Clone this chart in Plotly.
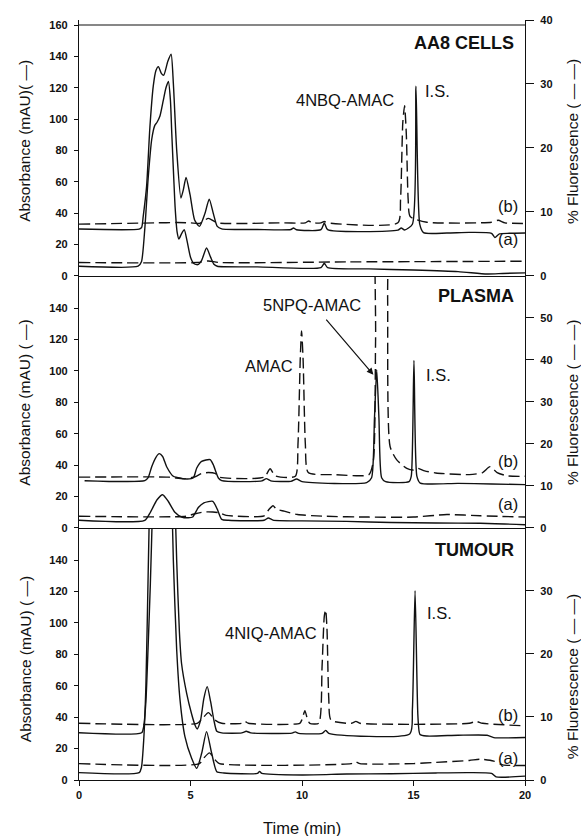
import plotly.graph_objects as go

# ---------------- DATA ----------------
TIME_TICKS = [0, 5, 10, 15, 20]

# Panel 1: AA8 CELLS  (absorbance in mAU, fluorescence in %)
AA8_ABS_B_T = [0, 2.7, 2.81, 2.88, 3.03, 3.18, 3.33, 3.45, 3.56, 3.7, 3.8, 3.98, 4.13, 4.23, 4.38, 4.57, 4.68, 4.8, 4.98,
               5.18, 5.4, 5.65, 5.84, 6.02, 6.2, 6.4, 8.0, 9.5, 9.62, 9.75, 10.85, 11.0, 11.15, 14.3, 14.45, 14.6,
               14.95, 15.11, 15.28, 15.45, 16.5, 17.5, 18.5, 18.65, 18.85, 19.3, 20]
AA8_ABS_B = [29.9, 29.9, 31, 38, 57, 95, 121, 131, 133.5, 129, 128, 136.7, 141.4, 123, 80.5, 49.7, 55, 62.8, 51.8,
             35.9, 31.6, 40, 49, 40, 31.6, 30, 29.6, 29.6, 30.6, 29.5, 29.5, 33.8, 29.5, 29.2, 30.6, 29.3,
             33, 121, 33, 27.6, 27.4, 27.8, 27.2, 24.5, 26.8, 27.2, 27.4]
AA8_ABS_A_T = [0, 2.65, 2.8, 2.95, 3.1, 3.26, 3.4, 3.5, 3.63, 3.78, 3.9, 4.01, 4.1, 4.16, 4.25, 4.31, 4.4, 4.48, 4.6,
               4.72, 4.85, 5.0, 5.15, 5.32, 5.5, 5.72, 5.9, 6.05, 6.2, 8.0, 10.85, 11.0, 11.15, 13.0, 15.0, 17.0,
               18.3, 19.0, 20]
AA8_ABS_A = [6.2, 6.2, 9, 30, 62, 87, 96, 98, 102, 112, 120, 124, 112, 91, 62, 44, 28, 23.6, 27,
             29.5, 22, 12, 8, 7.2, 10, 17.8, 12, 7.5, 6.2, 5.8, 5.3, 8.1, 5.3, 4.5, 3.8, 2.8,
             1.3, 1.6, 2.0]
AA8_FL_B_T = [0, 3.5, 4.4, 5.0, 5.4, 5.8, 6.2, 9.0, 10.15, 10.3, 10.45, 10.85, 11.0, 11.15, 14.3, 14.42, 14.52,
              14.6, 14.68, 14.76, 14.85, 15.6, 18.5, 18.8, 19.1, 20]
AA8_FL_B = [8.1, 8.3, 8.35, 8.3, 8.2, 9.0, 8.3, 8.3, 8.3, 8.6, 8.3, 8.3, 8.5, 8.3, 8.3, 12, 24,
            26.6, 22, 12, 9.3, 8.4, 8.4, 8.7, 8.3, 8.2]
AA8_FL_A_T = [0, 5.3, 5.8, 6.3, 12.0, 20]
AA8_FL_A = [2.1, 2.1, 2.35, 2.1, 2.2, 2.3]

# Panel 2: PLASMA
PLA_ABS_B_T = [0.25, 2.95, 3.1, 3.26, 3.45, 3.6, 3.75, 3.93, 4.23, 4.6, 4.85, 5.13, 5.28, 5.5, 5.88, 6.02, 6.25,
               6.4, 8.2, 8.4, 8.6, 9.5, 9.76, 10.0, 12.9, 13.12, 13.25, 13.35, 13.45, 13.57, 13.75, 14.8, 14.9,
               15.02, 15.15, 15.3, 17.0, 18.5, 20]
PLA_ABS_B = [30.1, 30.1, 32, 39, 45, 47.3, 45.5, 39, 32.9, 31.6, 31.2, 32, 38.2, 42.4, 43.5, 40.3, 31.8,
             30.1, 30, 31.4, 30, 29.7, 31.2, 29.5, 28.9, 32, 70, 100.7, 70, 32, 29.5, 29.5, 33,
             106.7, 33, 28.6, 28.4, 28, 27.6]
PLA_ABS_A_T = [0, 2.95, 3.2, 3.5, 3.75, 4.0, 4.3, 4.6, 4.9, 5.1, 5.35, 5.6, 6.0, 6.2, 6.4, 6.7, 8.3, 8.49, 8.7,
               10.0, 12.0, 14.0, 16.0, 18.0, 20]
PLA_ABS_A = [4.9, 4.9, 10, 18, 21.2, 17, 10, 7, 6.5, 7, 13, 16, 17, 12, 5.5, 4.9, 4.9, 6.4, 5,
             4.5, 4.2, 3.5, 3.2, 3.0, 2.1]
PLA_FL_B_T = [0, 4.0, 4.7, 5.2, 5.5, 5.8, 6.1, 6.3, 8.3, 8.57, 8.8, 9.7, 9.82, 9.92, 9.98, 10.05, 10.15, 10.28,
              11.5, 13.0, 13.2, 13.3, 13.42, 13.78, 13.84, 13.95, 14.25, 14.7, 14.99, 15.2, 15.5, 16.0, 17.5,
              18.1, 18.43, 18.75, 19.2, 20]
PLA_FL_B = [12.1, 12.1, 11.7, 12.2, 13.0, 13.2, 13.0, 12.1, 12.1, 14.1, 12.4, 12.3, 20, 40, 46.9, 40, 20, 13.2,
            12.7, 12.7, 16, 45, 90, 90, 55, 19.4, 16.2, 14.2, 13.8, 14.2, 13.6, 13.1, 12.7,
            13.2, 14.6, 13.2, 12.4, 12.3]
PLA_FL_A_T = [0, 4.8, 5.2, 5.6, 6.0, 6.3, 6.6, 8.3, 8.5, 8.7, 8.85, 9.2, 9.8, 11.0, 13.0, 15.0, 16.5, 18.0, 20]
PLA_FL_A = [2.8, 2.8, 3.4, 3.8, 3.8, 3.6, 3.0, 2.9, 4.3, 5.3, 4.5, 4.0, 3.2, 2.8, 2.6, 2.6, 3.2, 2.9, 2.6]

# Panel 3: TUMOUR
TUM_ABS_B_T = [0, 2.81, 2.9, 3.0, 3.1, 3.2, 3.3, 3.45, 3.7, 3.95, 4.15, 4.3, 4.38, 4.5, 4.6, 4.83, 5.05, 5.2, 5.3,
               5.45, 5.6, 5.75, 5.9, 6.05, 6.18, 6.4, 7.3, 7.5, 7.7, 9.55, 9.7, 9.85, 10.9, 11.06, 11.2, 14.84,
               14.95, 15.07, 15.2, 15.29, 15.6, 17.0, 18.3, 18.6, 20]
TUM_ABS_B = [30.1, 30.1, 34, 50, 85, 125, 175, 260, 330, 320, 250, 180, 140, 95, 74, 55, 42, 35, 32.5,
             38, 52, 59.4, 50, 38, 31, 30, 30, 31, 30, 29.8, 30.6, 29.7, 29.7, 31.6, 29.7, 29.5,
             45, 120.5, 40, 29, 28, 28.5, 28.5, 27, 27]
TUM_ABS_A_T = [0, 2.7, 2.8, 2.9, 3.0, 3.1, 3.2, 3.5, 3.8, 4.0, 4.1, 4.23, 4.38, 4.53, 4.75, 5.05, 5.28, 5.5, 5.72,
               5.95, 6.18, 6.5, 8.0, 8.1, 8.2, 10.0, 12.0, 14.0, 16.0, 17.5, 18.5, 18.7, 20]
TUM_ABS_A = [4.7, 4.7, 8, 25, 60, 130, 200, 350, 380, 300, 220, 140, 83, 51, 27.6, 13.8, 7.4, 17, 30.8,
             17, 5.3, 4.5, 4.2, 5.5, 4.2, 3.2, 3.8, 4.0, 4.5, 4.7, 4.2, 2.0, 2.5]
TUM_FL_B_T = [0, 5.3, 5.5, 5.8, 6.1, 6.4, 7.3, 7.44, 7.6, 9.9, 10.0, 10.13, 10.25, 10.35, 10.75, 10.9, 11.0, 11.06,
              11.12, 11.2, 11.3, 12.2, 12.42, 12.6, 17.5, 17.8, 18.1, 20]
TUM_FL_B = [9.0, 9.0, 9.6, 10.7, 9.5, 9.0, 9.0, 9.3, 9.0, 9.0, 9.6, 11.0, 9.6, 9.0, 9.0, 18, 26, 27.0,
            24, 13, 9.5, 9.0, 9.3, 9.0, 9.0, 9.3, 9.0, 8.6]
TUM_FL_A_T = [0, 5.4, 5.6, 5.85, 6.1, 6.3, 12.2, 12.4, 12.6, 15.0, 16.0, 17.5, 18.0, 18.6, 19.0, 20]
TUM_FL_A = [2.6, 2.6, 3.5, 4.3, 3.2, 2.6, 2.6, 2.9, 2.6, 2.6, 2.8, 3.1, 3.3, 3.0, 2.4, 2.3]

LEFT_TICKS_TOP = [0, 20, 40, 60, 80, 100, 120, 140, 160]
LEFT_TICKS = [0, 20, 40, 60, 80, 100, 120, 140]
RIGHT_TICKS_AA8 = [0, 10, 20, 30, 40]
RIGHT_TICKS_PLA = [0, 10, 20, 30, 40, 50]
RIGHT_TICKS_TUM = [0, 10, 20, 30]

# ---------------- FIGURE ----------------
INK = "#111111"
FONT = "Liberation Sans, Arial, sans-serif"
solid = dict(color=INK, width=1.4, shape="spline", smoothing=0.6)
dashed = dict(color=INK, width=1.4, dash="11px,5px", shape="spline", smoothing=0.6)

fig = go.Figure()

def add(t, v, xa, ya, line, name):
    fig.add_trace(go.Scatter(x=t, y=v, xaxis=xa, yaxis=ya, mode="lines", line=line,
                             name=name, showlegend=False, hoverinfo="skip"))

add(AA8_ABS_B_T, AA8_ABS_B, "x", "y", solid, "AA8 abs b")
add(AA8_ABS_A_T, AA8_ABS_A, "x", "y", solid, "AA8 abs a")
add(AA8_FL_B_T, AA8_FL_B, "x", "y2", dashed, "AA8 fl b")
add(AA8_FL_A_T, AA8_FL_A, "x", "y2", dashed, "AA8 fl a")

add(PLA_ABS_B_T, PLA_ABS_B, "x2", "y3", solid, "PLA abs b")
add(PLA_ABS_A_T, PLA_ABS_A, "x2", "y3", solid, "PLA abs a")
add(PLA_FL_B_T, PLA_FL_B, "x2", "y4", dashed, "PLA fl b")
add(PLA_FL_A_T, PLA_FL_A, "x2", "y4", dashed, "PLA fl a")

add(TUM_ABS_B_T, TUM_ABS_B, "x3", "y5", solid, "TUM abs b")
add(TUM_ABS_A_T, TUM_ABS_A, "x3", "y5", solid, "TUM abs a")
add(TUM_FL_B_T, TUM_FL_B, "x3", "y6", dashed, "TUM fl b")
add(TUM_FL_A_T, TUM_FL_A, "x3", "y6", dashed, "TUM fl a")

D1 = [0.6632, 1.0]
D2 = [0.3316, 0.6632]
D3 = [0.0, 0.3316]

tickfont = dict(family=FONT, size=11, color=INK, weight="bold")

def xax(anchor, labels):
    return dict(domain=[0, 1], range=[0, 20], anchor=anchor, showline=True, linecolor=INK, linewidth=1.2,
                showgrid=False, zeroline=False, tickvals=TIME_TICKS,
                ticks="outside" if labels else "", ticklen=5, tickwidth=1.2, tickcolor=INK,
                showticklabels=labels, tickfont=tickfont)

def yleft(domain, rng, vals, anchor):
    return dict(domain=domain, range=rng, anchor=anchor, side="left", showline=True, linecolor=INK,
                linewidth=1.2, showgrid=False, zeroline=False, tickvals=vals, ticks="outside", ticklen=4,
                tickwidth=1.2, tickcolor=INK, tickfont=tickfont, ticklabelstandoff=4)

def yright(overlay, rng, vals, anchor):
    return dict(overlaying=overlay, range=rng, anchor=anchor, side="right", showline=True, linecolor=INK,
                linewidth=1.2, showgrid=False, zeroline=False, tickvals=vals, ticks="outside", ticklen=8,
                tickwidth=1.2, tickcolor=INK, tickfont=tickfont, ticklabelstandoff=4)

fig.update_layout(
    width=581, height=836,
    margin=dict(l=79, r=56, t=20, b=56),
    paper_bgcolor="white", plot_bgcolor="white",
    font=dict(family=FONT, color=INK),
    xaxis=xax("y", False),
    xaxis2=xax("y3", False),
    xaxis3=xax("y5", True),
    yaxis=yleft(D1, [0, 163.2], LEFT_TICKS_TOP, "x"),
    yaxis2=yright("y", [0, 40], RIGHT_TICKS_AA8, "x"),
    yaxis3=yleft(D2, [0, 160.4], LEFT_TICKS, "x2"),
    yaxis4=yright("y3", [0, 60], RIGHT_TICKS_PLA, "x2"),
    yaxis5=yleft(D3, [0, 160.4], LEFT_TICKS, "x3"),
    yaxis6=yright("y5", [0, 40], RIGHT_TICKS_TUM, "x3"),
)

# top frame line of the upper panel
fig.add_shape(type="line", xref="x", yref="y", x0=0, x1=20, y0=160, y1=160,
              line=dict(color=INK, width=1.2))

lab = dict(family=FONT, size=16.5, color=INK)
bold = dict(family=FONT, size=18, color=INK, weight="bold")

def note(x, y, text, xr, yr, font=lab, xanchor="center"):
    fig.add_annotation(x=x, y=y, xref=xr, yref=yr, text=text, showarrow=False, font=font,
                       xanchor=xanchor, yanchor="middle")

# panel 1
note(19.6, 148.8, "AA8 CELLS", "x", "y", bold, "right")
note(11.91, 112.3, "4NBQ-AMAC", "x", "y")
note(16.09, 118.2, "I.S.", "x", "y")
note(19.23, 44.3, "(b)", "x", "y")
note(19.23, 23.6, "(a)", "x", "y")
# panel 2
note(19.6, 147.4, "PLASMA", "x2", "y3", bold, "right")
note(10.45, 142.1, "5NPQ-AMAC", "x2", "y3")
note(8.5, 102.8, "AMAC", "x2", "y3")
note(16.1, 97.6, "I.S.", "x2", "y3")
note(19.25, 42.4, "(b)", "x2", "y3")
note(19.25, 15.5, "(a)", "x2", "y3")
fig.add_annotation(x=13.2, y=97.6, ax=11.03, ay=133.6, xref="x2", yref="y3", axref="x2", ayref="y3",
                   text="", showarrow=True, arrowhead=2, arrowsize=1.1, arrowwidth=1.2, arrowcolor=INK)
# panel 3
note(19.6, 146.4, "TUMOUR", "x3", "y5", bold, "right")
note(8.6, 93.3, "4NIQ-AMAC", "x3", "y5")
note(16.17, 106.0, "I.S.", "x3", "y5")
note(19.25, 41.4, "(b)", "x3", "y5")
note(19.25, 13.8, "(a)", "x3", "y5")

# axis titles
tfont = dict(family=FONT, size=15.5, color=INK)
for yc, txt in [(0.841, "Absorbance (mAU)( \u2014)"), (0.4965, "Absorbance (mAU) ( \u2014)"),
                (0.159, "Absorbance (mAU) ( \u2014)")]:
    fig.add_annotation(x=-0.121, y=yc, xref="paper", yref="paper", text=txt, textangle=-90,
                       showarrow=False, font=tfont, xanchor="center", yanchor="middle")
for yc in [0.840, 0.4967, 0.136]:
    fig.add_annotation(x=1.1065, y=yc, xref="paper", yref="paper", text="% Fluorescence ( \u2014 \u2014)",
                       textangle=-90, showarrow=False, font=tfont, xanchor="center", yanchor="middle")
fig.add_annotation(x=0.5, y=-0.063, xref="paper", yref="paper", text="Time (min)", showarrow=False,
                   font=dict(family=FONT, size=16.5, color=INK), xanchor="center", yanchor="middle")

fig.write_html("out.html")
